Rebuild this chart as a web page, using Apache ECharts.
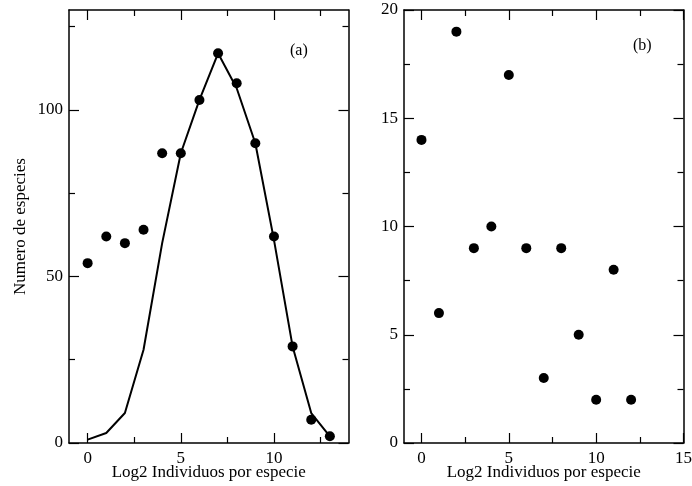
<!DOCTYPE html>
<html>
<head>
<meta charset="utf-8">
<script src="https://cdn.jsdelivr.net/npm/echarts@6/dist/echarts.min.js"></script>
<style>
  html, body { margin: 0; padding: 0; background: #fff; }
  #chart { width: 692px; height: 486px; }
</style>
</head>
<body>
<div id="chart"></div>
<script>
// Panel (a): octave classes, observed species counts and the fitted curve
const octavesA = [0, 1, 2, 3, 4, 5, 6, 7, 8, 9, 10, 11, 12, 13];
const observedA = [54, 62, 60, 64, 87, 87, 103, 117, 108, 90, 62, 29, 7, 2];
const fittedA = [1, 3, 9, 28, 60, 87, 103, 117, 106.5, 90, 61, 29, 9, 2];

// Panel (b): octave classes and species counts
const octavesB = [0, 1, 2, 3, 4, 5, 6, 7, 8, 9, 10, 11, 12];
const observedB = [14, 6, 19, 9, 10, 17, 9, 3, 9, 5, 2, 8, 2];

// Tick marks and labels
const xMajorA = [0, 5, 10];
const xMinorA = [2.5, 7.5, 12.5];
const yMajorA = [0, 50, 100];
const yMinorA = [25, 75, 125];
const xMajorB = [0, 5, 10, 15];
const xMinorB = [2.5, 7.5, 12.5];
const yMajorB = [0, 5, 10, 15, 20];
const yMinorB = [2.5, 7.5, 12.5, 17.5];

const xTitle = 'Log2 Individuos por especie';
const yTitle = 'Numero de especies';
const panelTags = ['(a)', '(b)'];

const FONT = '"Liberation Serif", "DejaVu Serif", serif';
const INK = '#000';

function pairs(xs, ys) {
  return xs.map((x, i) => [x, ys[i]]);
}

// One axis drawing a frame edge with inward ticks at the given values
function frameAxis(opts) {
  return {
    type: 'value',
    gridIndex: opts.grid,
    position: opts.position,
    min: opts.min,
    max: opts.max,
    axisLine: { show: opts.line, onZero: false, lineStyle: { color: INK, width: 1.5 } },
    axisTick: {
      show: true, inside: true, length: opts.tickLen,
      customValues: opts.ticks,
      lineStyle: { color: INK, width: 1.2 }
    },
    minorTick: { show: false },
    splitLine: { show: false },
    axisLabel: opts.labels ? {
      show: true, color: INK, fontFamily: FONT, fontSize: 17,
      margin: opts.labelMargin, customValues: opts.labels
    } : { show: false },
    name: opts.name || '',
    nameLocation: 'middle',
    nameGap: opts.nameGap || 0,
    nameMoveOverlap: false,
    nameTextStyle: { fontFamily: FONT, fontSize: 17, color: INK }
  };
}

// Four x axes per panel: bottom major/minor, top major/minor
function xAxesFor(grid, min, max, major, minor, name) {
  return [
    frameAxis({ grid, position: 'bottom', min, max, line: true, tickLen: 10, ticks: major,
                labels: major, labelMargin: 7, name, nameGap: 21 }),
    frameAxis({ grid, position: 'bottom', min, max, line: false, tickLen: 6, ticks: minor }),
    frameAxis({ grid, position: 'top', min, max, line: true, tickLen: 10, ticks: major }),
    frameAxis({ grid, position: 'top', min, max, line: false, tickLen: 6, ticks: minor })
  ];
}

// Four y axes per panel: left major/minor, right major/minor
function yAxesFor(grid, min, max, major, minor, name) {
  return [
    frameAxis({ grid, position: 'left', min, max, line: true, tickLen: 10, ticks: major,
                labels: major, labelMargin: 6, name, nameGap: 40 }),
    frameAxis({ grid, position: 'left', min, max, line: false, tickLen: 6, ticks: minor }),
    frameAxis({ grid, position: 'right', min, max, line: true, tickLen: 10, ticks: major }),
    frameAxis({ grid, position: 'right', min, max, line: false, tickLen: 6, ticks: minor })
  ];
}

const chart = echarts.init(document.getElementById('chart'), null, { renderer: 'canvas' });

chart.setOption({
  backgroundColor: '#fff',
  animation: false,
  title: [
    { text: panelTags[0], left: 285, top: 38, textStyle: { fontFamily: FONT, fontSize: 16, fontWeight: 'normal', color: INK } },
    { text: panelTags[1], left: 628, top: 33, textStyle: { fontFamily: FONT, fontSize: 16, fontWeight: 'normal', color: INK } }
  ],
  grid: [
    { left: 69, right: 343.5, top: 10, bottom: 43, outerBoundsMode: 'none' },
    { left: 404, right: 8.5, top: 10, bottom: 43, outerBoundsMode: 'none' }
  ],
  xAxis: [].concat(
    xAxesFor(0, -1, 14, xMajorA, xMinorA, xTitle),
    xAxesFor(1, -1, 15, xMajorB, xMinorB, xTitle)
  ),
  yAxis: [].concat(
    yAxesFor(0, 0, 130, yMajorA, yMinorA, yTitle),
    yAxesFor(1, 0, 20, yMajorB, yMinorB, '')
  ),
  series: [
    {
      type: 'line', xAxisIndex: 0, yAxisIndex: 0,
      data: pairs(octavesA, fittedA),
      showSymbol: false, symbol: 'none',
      lineStyle: { color: INK, width: 2 },
      z: 2
    },
    {
      type: 'scatter', xAxisIndex: 0, yAxisIndex: 0,
      data: pairs(octavesA, observedA),
      symbol: 'circle', symbolSize: 10,
      itemStyle: { color: INK, opacity: 1 },
      z: 3
    },
    {
      type: 'scatter', xAxisIndex: 4, yAxisIndex: 4,
      data: pairs(octavesB, observedB),
      symbol: 'circle', symbolSize: 10,
      itemStyle: { color: INK, opacity: 1 },
      z: 3
    }
  ]
});
</script>
</body>
</html>
